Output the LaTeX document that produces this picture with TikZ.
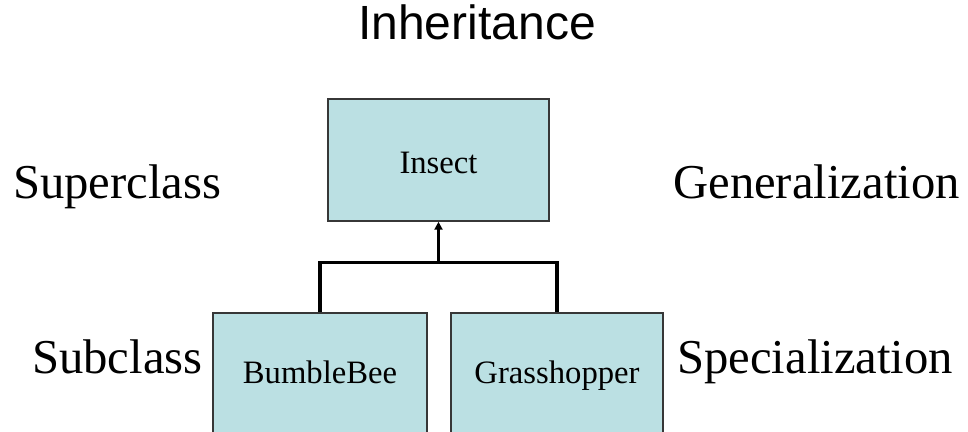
\documentclass[tikz,border=0pt]{standalone}
\usepackage{fontspec}
\setmainfont{Liberation Serif}
\newfontfamily\headfont{Liberation Sans}
\usetikzlibrary{arrows.meta,positioning,calc}
\definecolor{BoxFill}{RGB}{187,224,227}
\definecolor{BoxLine}{RGB}{55,55,55}
\tikzset{
  classbox/.style={rectangle,draw=BoxLine,line width=1.1pt,fill=BoxFill,inner sep=0pt,
    text height=16pt,text depth=4pt,font=\fontsize{24.5}{28}\selectfont},
  sidelabel/.style={anchor=base west,inner sep=0pt,font=\fontsize{36.5}{42}\selectfont},
  heading/.style={anchor=base,inner sep=0pt,font=\headfont\fontsize{36}{42}\selectfont},
  arm/.style={draw=black,line width=2.3pt},
  uparrow/.style={arm,-{Triangle[length=6pt,width=6pt]}}
}

\begin{document}
\begin{tikzpicture}[x=0.75pt,y=-0.75pt]
\useasboundingbox (0,0) rectangle (968,432);
\clip (0,0) rectangle (968,432);

\node[heading] (title) at (477,40) {Inheritance};

\node[classbox,text height=20pt,text depth=0pt,minimum width=165.75pt,minimum height=91.5pt] (insect) at (438.5,160) {Insect};
\node[classbox,minimum width=160.5pt,minimum height=93pt] (bee) at (320,375) {BumbleBee};
\node[classbox,minimum width=159pt,minimum height=93pt] (hopper) at (557,375) {Grasshopper};

\node[sidelabel] (super) at (13,198) {Superclass};
\node[sidelabel] (sub) at (32,373) {Subclass};
\node[sidelabel] (general) at (673,198) {Generalization};
\node[sidelabel] (special) at (677,373) {Specialization};

% both subclasses meet on one bar, then one arrow up to the superclass
\coordinate (fork) at ($(bee.north)!0.5!(hopper.north)+(0,-50)$);
\draw[arm] (bee.north) |- (fork) -| (hopper.north);
\draw[uparrow] (fork) -- (insect.south);
\end{tikzpicture}
\end{document}
